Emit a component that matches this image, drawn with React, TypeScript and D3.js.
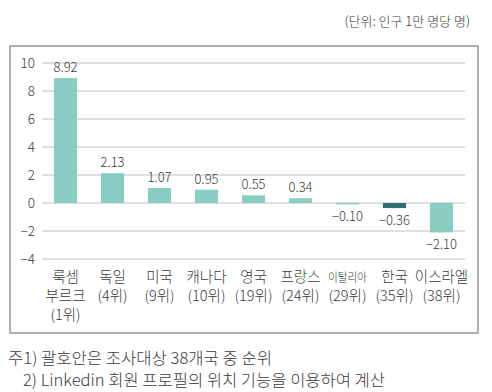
import React from "react";
import * as d3 from "d3";

const countries = ["룩셈부르크", "독일", "미국", "캐나다", "영국", "프랑스", "이탈리아", "한국", "이스라엘"];
const nameLines = [["룩셈", "부르크"], ["독일"], ["미국"], ["캐나다"], ["영국"], ["프랑스"], ["이탈리아"], ["한국"], ["이스라엘"]];
const ranks = ["(1위)", "(4위)", "(9위)", "(10위)", "(19위)", "(24위)", "(29위)", "(35위)", "(38위)"];
const values = [8.92, 2.13, 1.07, 0.95, 0.55, 0.34, -0.1, -0.36, -2.1];
const highlight = "한국";
const yTicks = [-4, -2, 0, 2, 4, 6, 8, 10];
const unitText = "(단위: 인구 1만 명당 명)";
const notes = ["주1) 괄호안은 조사대상 38개국 중 순위", "2) Linkedin 회원 프로필의 위치 기능을 이용하여 계산"];

const W = 492, H = 392;
const FONT = "'Noto Sans CJK KR', 'Noto Sans', sans-serif";
const TEXT = "#3a3a3a";

export default function App() {
  const x = d3.scaleBand<string>().domain(countries).range([42, 465]).paddingInner(0.51).paddingOuter(0.255);
  const y = d3.scaleLinear().domain([-4, 10]).range([259, 63]);
  const fmt = (v: number) => (v < 0 ? "−" : "") + Math.abs(v).toFixed(2);

  return (
    <svg width={W} height={H} style={{ position: "absolute", left: 0, top: 0, background: "#fff" }} fontFamily={FONT} fontWeight={300}>
      <text x={470} y={26} textAnchor="end" fontSize={13} fill={TEXT}>{unitText}</text>
      <rect x={10} y={46} width={468} height={287} fill="none" stroke="#b0b0b0" strokeWidth={2} />
      {yTicks.map((t) => (
        <g key={t}>
          <line x1={42} x2={465} y1={y(t)} y2={y(t)} stroke="#d4d4d4" strokeWidth={1.5} />
          <text x={35} y={y(t) + 4.5} textAnchor="end" fontSize={13.5} fill={TEXT}>
            {t < 0 ? "−" + Math.abs(t) : t}
          </text>
        </g>
      ))}
      {countries.map((c, i) => {
        const v = values[i];
        const x0 = x(c)!;
        const bw = x.bandwidth();
        const cx = x0 + bw / 2;
        const top = y(Math.max(0, v));
        const bot = y(Math.min(0, v));
        const lines = [...nameLines[i], ranks[i]];
        return (
          <g key={c}>
            <rect x={x0} y={top} width={bw} height={Math.max(0.5, bot - top)} fill={c === highlight ? "#2d7072" : "#88ccc2"} />
            <text x={cx} y={v >= 0 ? top - 6 : bot + 17} textAnchor="middle" fontSize={13} fill={TEXT}>{fmt(v)}</text>
            {lines.map((l, j) => (
              <text key={j} x={cx} y={282 + j * 19} textAnchor="middle" fontSize={c === "이탈리아" && j === 0 ? 12.5 : 14.5} fill={TEXT}
                {...(c === "이탈리아" && j === 0 ? { textLength: 39, lengthAdjust: "spacingAndGlyphs" } : {})}>
                {l}
              </text>
            ))}
          </g>
        );
      })}
      <text x={8} y={364} fontSize={16} fill={TEXT} textLength={264} lengthAdjust="spacingAndGlyphs">{notes[0]}</text>
      <text x={23} y={386} fontSize={16} fill={TEXT} textLength={362} lengthAdjust="spacingAndGlyphs">{notes[1]}</text>
    </svg>
  );
}
